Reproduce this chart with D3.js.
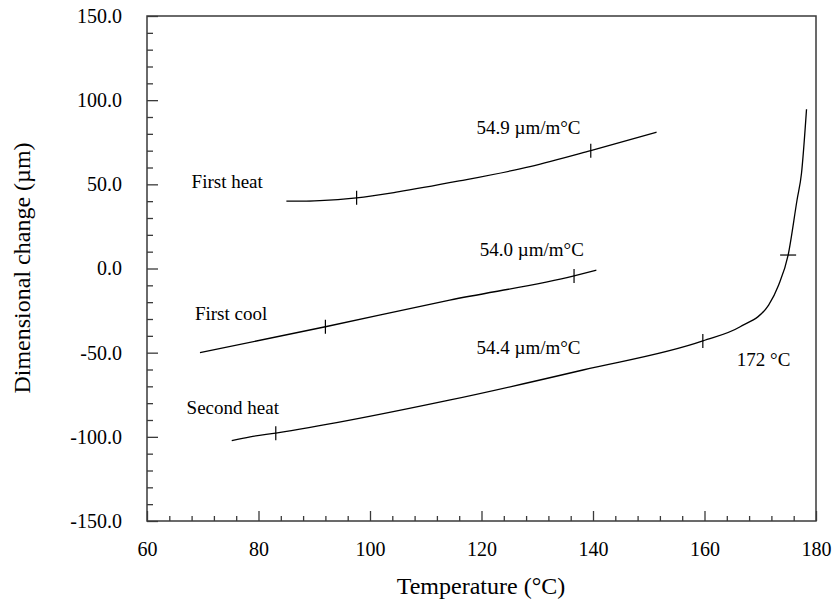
<!DOCTYPE html>
<html>
<head>
<meta charset="utf-8">
<script src="https://cdn.jsdelivr.net/npm/d3@7"></script>
<style>
  html, body { margin: 0; padding: 0; background: #fff; }
  svg { display: block; }
  svg text { font-family: "Liberation Serif", "Times New Roman", serif !important; fill: #000; }
</style>
</head>
<body>
<svg id="chart" width="833" height="601"></svg>
<script>
// ---- data ----
const xTicksMajor = [60, 80, 100, 120, 140, 160, 180];
const yTicksMajor = [-150, -100, -50, 0, 50, 100, 150];

const firstHeat = [[85, 40], [88, 40], [91, 40.3], [97.6, 42], [105, 45.5], [116, 52], [128.7, 60.5], [139.6, 70], [151.4, 81]];
const firstCool = [[69.5, -50], [92, -34.6], [114.3, -18.8], [136.6, -4.4], [140.6, -1]];
const secondHeat = [[75.2, -102.3], [78.5, -100], [83.1, -97.8], [114.4, -78.1], [138.2, -60.3], [159.7, -43], [166.4, -34.6], [171.5, -21.7], [173.3, -9.8], [175, 8], [176.6, 40.7], [177.4, 56.6], [178.3, 94.6]];

const markerX = [97.6, 139.6, 92, 136.6, 83.1, 159.7];
const markerY = [42, 70, -34.6, -4.4, -97.8, -43];
const markerH = [[175, 8]];

const labelText = ["First heat", "First cool", "Second heat", "54.9 \u00B5m/m\u00B0C", "54.0 \u00B5m/m\u00B0C", "54.4 \u00B5m/m\u00B0C", "172 \u00B0C"];
const labelX = [68.0, 68.6, 67.1, 119.1, 119.7, 119.1, 165.8];
const labelY = [47.9, -30.6, -86.4, 80.0, 7.5, -50.8, -57.9];

const xTitle = "Temperature (\u00B0C)";
const yTitle = "Dimensional change (\u00B5m)";

// ---- layout ----
const svg = d3.select("#chart");
const L = 147, R = 816, T = 16, B = 521;
const x = d3.scaleLinear().domain([60, 180]).range([L, R]);
const y = d3.scaleLinear().domain([-150, 150]).range([B, T]);
const axisColor = "#3a3a3a";
const serif = '"Liberation Serif", "Times New Roman", serif';

// minor ticks
const xMinor = d3.range(60, 180.001, 4).filter(v => v % 20 !== 0);
const yMinor = d3.range(-150, 150.001, 10).filter(v => v % 50 !== 0);

const yFmt = v => d3.format(".1f")(v).replace("\u2212", "-");

const gx = svg.append("g").attr("transform", `translate(0,${B})`);
gx.call(d3.axisBottom(x).tickValues(xTicksMajor).tickSizeInner(-10).tickSizeOuter(0).tickPadding(21).tickFormat(d3.format("d")));
gx.append("g").call(d3.axisBottom(x).tickValues(xMinor).tickSizeInner(-5).tickSizeOuter(0).tickFormat(""));

const gy = svg.append("g").attr("transform", `translate(${L},0)`);
gy.call(d3.axisLeft(y).tickValues(yTicksMajor).tickSizeInner(-11).tickSizeOuter(0).tickPadding(25).tickFormat(yFmt));
gy.append("g").call(d3.axisLeft(y).tickValues(yMinor).tickSizeInner(-6).tickSizeOuter(0).tickFormat(""));

svg.selectAll("g").attr("font-family", null).attr("font-size", null);
svg.selectAll(".domain").remove();
svg.selectAll(".tick line").attr("stroke", axisColor).attr("stroke-width", 1.3);
svg.selectAll(".tick text").style("font-family", serif).style("font-size", "20px").attr("fill", "#000");

// frame
svg.append("rect").attr("x", L).attr("y", T).attr("width", R - L).attr("height", B - T)
  .attr("fill", "none").attr("stroke", axisColor).attr("stroke-width", 1.5);

// curves
const line = d3.line().x(d => x(d[0])).y(d => y(d[1])).curve(d3.curveMonotoneX);
[firstHeat, firstCool, secondHeat].forEach(s => {
  svg.append("path").datum(s).attr("d", line).attr("fill", "none").attr("stroke", "#000").attr("stroke-width", 1.3);
});

// vertical markers
svg.selectAll(".mv").data(markerX).enter().append("line")
  .attr("x1", d => x(d)).attr("x2", d => x(d))
  .attr("y1", (d, i) => y(markerY[i]) - 7).attr("y2", (d, i) => y(markerY[i]) + 7)
  .attr("stroke", "#000").attr("stroke-width", 1.2);
// horizontal marker
svg.selectAll(".mh").data(markerH).enter().append("line")
  .attr("x1", d => x(d[0]) - 8).attr("x2", d => x(d[0]) + 8)
  .attr("y1", d => y(d[1])).attr("y2", d => y(d[1]))
  .attr("stroke", "#000").attr("stroke-width", 1.2);

// labels
svg.selectAll(".lab").data(labelText).enter().append("text")
  .attr("x", (d, i) => x(labelX[i])).attr("y", (d, i) => y(labelY[i]))
  .style("font-family", serif).style("font-size", "19px").text(d => d);

// axis titles
svg.append("text").attr("x", 481).attr("y", 594).attr("text-anchor", "middle")
  .style("font-family", serif).style("font-size", "24px").text(xTitle);
svg.append("text").attr("transform", `translate(30,${268}) rotate(-90)`)
  .attr("text-anchor", "middle").style("font-family", serif).style("font-size", "24px").text(yTitle);
</script>
</body>
</html>
